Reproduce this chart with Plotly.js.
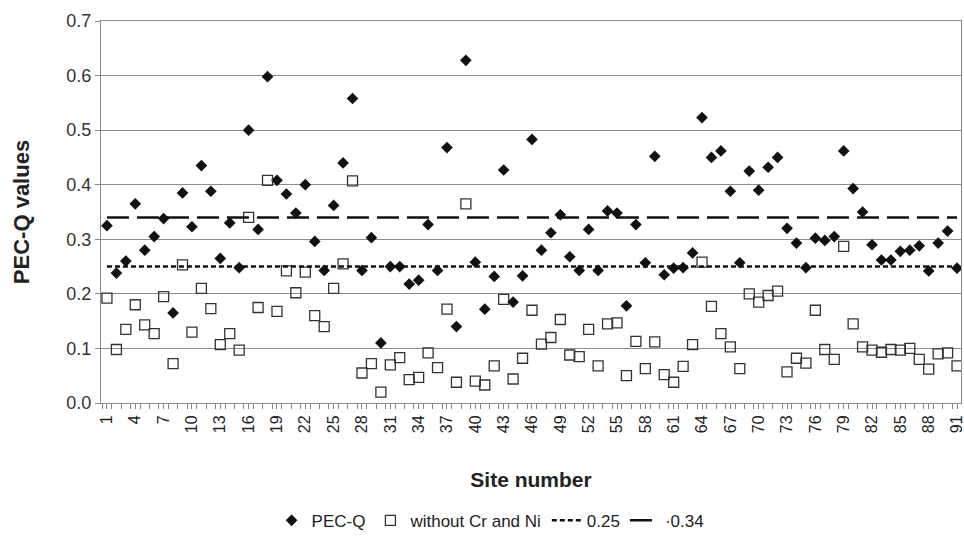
<!DOCTYPE html>
<html><head><meta charset="utf-8">
<script src="https://cdn.plot.ly/plotly-3.0.1.min.js"></script>
<style>html,body{margin:0;padding:0;background:#fff}#c{width:964px;height:538px}</style>
</head><body><div id="c"></div>
<script>
const sites = Array.from({length: 91}, (_, i) => i + 1);
const pecq = [0.325,0.238,0.26,0.365,0.28,0.305,0.338,0.165,0.385,0.323,
0.435,0.388,0.265,0.33,0.248,0.5,0.318,0.598,0.408,0.383,
0.348,0.4,0.296,0.243,0.362,0.44,0.558,0.243,0.303,0.11,
0.25,0.25,0.218,0.225,0.327,0.243,0.468,0.14,0.628,0.258,
0.172,0.232,0.427,0.185,0.233,0.483,0.28,0.312,0.345,0.268,
0.243,0.318,0.243,0.352,0.348,0.178,0.327,0.257,0.452,0.235,
0.247,0.248,0.275,0.523,0.45,0.462,0.388,0.257,0.425,0.39,
0.432,0.45,0.32,0.293,0.248,0.302,0.298,0.305,0.462,0.393,
0.35,0.29,0.262,0.262,0.278,0.28,0.288,0.242,0.293,0.315,0.247];
const withoutCrNi = [0.192,0.098,0.135,0.18,0.143,0.127,0.195,0.072,0.253,0.13,
0.21,0.173,0.107,0.127,0.097,0.34,0.175,0.408,0.168,0.242,
0.202,0.24,0.16,0.14,0.21,0.255,0.407,0.055,0.072,0.02,
0.07,0.083,0.043,0.047,0.092,0.065,0.172,0.038,0.365,0.04,
0.033,0.068,0.19,0.044,0.082,0.17,0.108,0.12,0.153,0.088,
0.085,0.135,0.068,0.145,0.147,0.05,0.113,0.063,0.112,0.052,
0.038,0.067,0.107,0.258,0.177,0.127,0.103,0.063,0.2,0.185,
0.197,0.205,0.057,0.082,0.073,0.17,0.098,0.08,0.287,0.145,
0.103,0.097,0.093,0.098,0.097,0.1,0.08,0.062,0.09,0.092,0.068];
const thresholdLow = 0.25;
const thresholdHigh = 0.34;
const tickSites = sites.filter(s => (s - 1) % 3 === 0);
const tickLabels = tickSites.map(String);

const lineX = [sites[0], sites[sites.length - 1]];
const traces = [
  {x: sites, y: pecq, type: 'scatter', mode: 'markers', name: 'PEC-Q',
   marker: {symbol: 'diamond', size: 9, color: '#111'}},
  {x: sites, y: withoutCrNi, type: 'scatter', mode: 'markers', name: 'without Cr and Ni',
   marker: {symbol: 'square-open', size: 10, color: '#333', line: {width: 1.3, color: '#333'}}},
  {x: lineX, y: [thresholdLow, thresholdLow], type: 'scatter', mode: 'lines', name: '0.25',
   line: {color: '#111', width: 2.5, dash: '5px,3px'}},
  {x: lineX, y: [thresholdHigh, thresholdHigh], type: 'scatter', mode: 'lines', name: '·0.34',
   line: {color: '#111', width: 2.5, dash: '22px,8px'}}
];
const layout = {
  width: 964, height: 538,
  margin: {l: 101, r: 3, t: 21, b: 135, autoexpand: false},
  paper_bgcolor: '#fff', plot_bgcolor: '#fff',
  font: {family: 'Liberation Sans, Arial, sans-serif', color: '#222'},
  showlegend: true,
  legend: {orientation: 'h', x: 0.453, xanchor: 'center', yref: 'container', y: 0.032, yanchor: 'middle',
           font: {size: 17, color: '#222'}, itemwidth: 30, tracegroupgap: 0},
  xaxis: {range: [0.37, 91.42], tickmode: 'array', tickvals: tickSites, ticktext: tickLabels,
          tickangle: -90, tickfont: {size: 16, color: '#222'}, ticks: 'outside', ticklen: 5,
          ticklabeloverflow: 'allow', automargin: false,
          tickcolor: '#888', showgrid: false, zeroline: false, showline: true, linecolor: '#888',
          linewidth: 1, mirror: true,
          minor: {dtick: 1, tick0: 0.5, ticks: 'outside', ticklen: 5, tickcolor: '#888', showgrid: false},
          title: {text: 'Site number', font: {size: 21, color: '#222', weight: 'bold'}, standoff: 40}},
  yaxis: {range: [0, 0.7], dtick: 0.1, tickformat: '.1f', tickfont: {size: 18, color: '#333'},
          ticks: 'outside', ticklen: 5, tickcolor: '#888', showgrid: true, gridcolor: '#8c8c8c',
          automargin: false,
          gridwidth: 1, zeroline: false, showline: true, linecolor: '#888', linewidth: 1, mirror: true,
          title: {text: 'PEC-Q values', font: {size: 22, color: '#222', weight: 'bold'}, standoff: 30}}
};
Plotly.newPlot('c', traces, layout, {displayModeBar: false, staticPlot: true});
</script></body></html>
